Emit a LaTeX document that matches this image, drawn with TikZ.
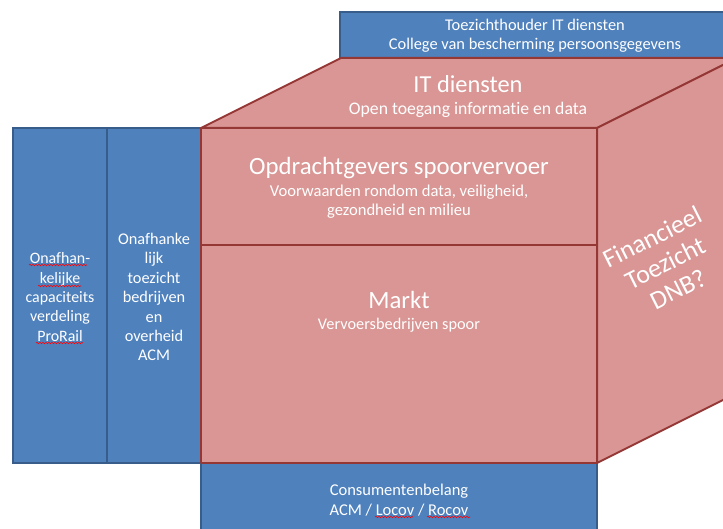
\documentclass[tikz,border=0pt]{standalone}
\usepackage{fontspec}
\setmainfont{Carlito}[Ligatures={NoCommon}]
\usetikzlibrary{decorations.pathmorphing}
\definecolor{bfill}{HTML}{4F81BD}
\definecolor{bline}{HTML}{385D8A}
\definecolor{pfill}{HTML}{D99694}
\definecolor{pline}{HTML}{953735}
\begin{document}
\begin{tikzpicture}[x=1pt,y=-1pt,
  bluebox/.style={fill=bfill,draw=bline,line width=1.6pt},
  pinkface/.style={fill=pfill,draw=pline,line width=2pt,line join=round},
  txt/.style={text=white,align=center,inner sep=0pt,font=\fontsize{16.3}{19.4}\selectfont},
  bigtxt/.style={text=white,align=center,inner sep=0pt,font=\fontsize{24.8}{28}\selectfont},
  spell/.style={draw=red,line width=0.6pt,decorate,decoration={snake,amplitude=0.7pt,segment length=3pt}}]
\useasboundingbox (0,0) rectangle (723,529);
\begin{scope}
\clip (0,0) rectangle (723,529);
% top blue box
\draw[bluebox] (340,12) rectangle (732,58);
% bottom blue box
\draw[bluebox] (201,463) rectangle (597,540);
% left blue boxes
\draw[bluebox] (13,128) rectangle (107,463);
\draw[bluebox] (107,128) rectangle (201,463);
% cube faces
\draw[pinkface] (201,128) -- (341,58) -- (737,58) -- (597,128) -- cycle;
\draw[pinkface] (597,128) -- (737,58) -- (737,393) -- (597,463) -- cycle;
\draw[pinkface] (201,128) rectangle (597,463);
\draw[pline,line width=2pt] (201,245) -- (597,245);
\end{scope}
% texts
\node[txt,font=\fontsize{16.4}{19}\selectfont] (toez) at (535,36) {Toezichthouder IT diensten\\College van bescherming persoonsgegevens};
\node[bigtxt,font=\fontsize{24.4}{28}\selectfont] (it) at (468,84) {IT diensten};
\node[txt,font=\fontsize{17.7}{20}\selectfont] (itsub) at (468,110) {Open toegang informatie en data};
\node[bigtxt] (opd) at (399,168) {Opdrachtgevers spoorvervoer};
\node[txt,font=\fontsize{16.6}{19}\selectfont] (opdsub) at (399,202) {Voorwaarden rondom data, veiligheid,\\gezondheid en milieu};
\node[bigtxt] (markt) at (399,300) {Markt};
\node[txt] (marktsub) at (399,325) {Vervoersbedrijven spoor};
\node[txt,font=\fontsize{15.9}{19.4}\selectfont] (prorail) at (60,297) {Onafhan-\\kelijke\\capaciteits\\verdeling\\ProRail};
\node[txt] (acm) at (154,297) {Onafhanke\\lijk\\toezicht\\bedrijven\\en\\overheid\\ACM};
\node[txt,font=\fontsize{16.5}{20}\selectfont] (cons) at (399,500) {Consumentenbelang\\ACM / Locov / Rocov};
\node[bigtxt,rotate=26.6,font=\fontsize{26}{29}\selectfont] (fin) at (665,263) {Financieel\\Toezicht\\DNB?};
% spell-check underlines
\draw[spell] (29,265) -- (87,265);
\draw[spell] (38,286) -- (81,286);
\draw[spell] (36,343) -- (83,343);
\draw[spell] (375,517) -- (413,517);
\draw[spell] (427,517) -- (470,517);
\end{tikzpicture}
\end{document}
